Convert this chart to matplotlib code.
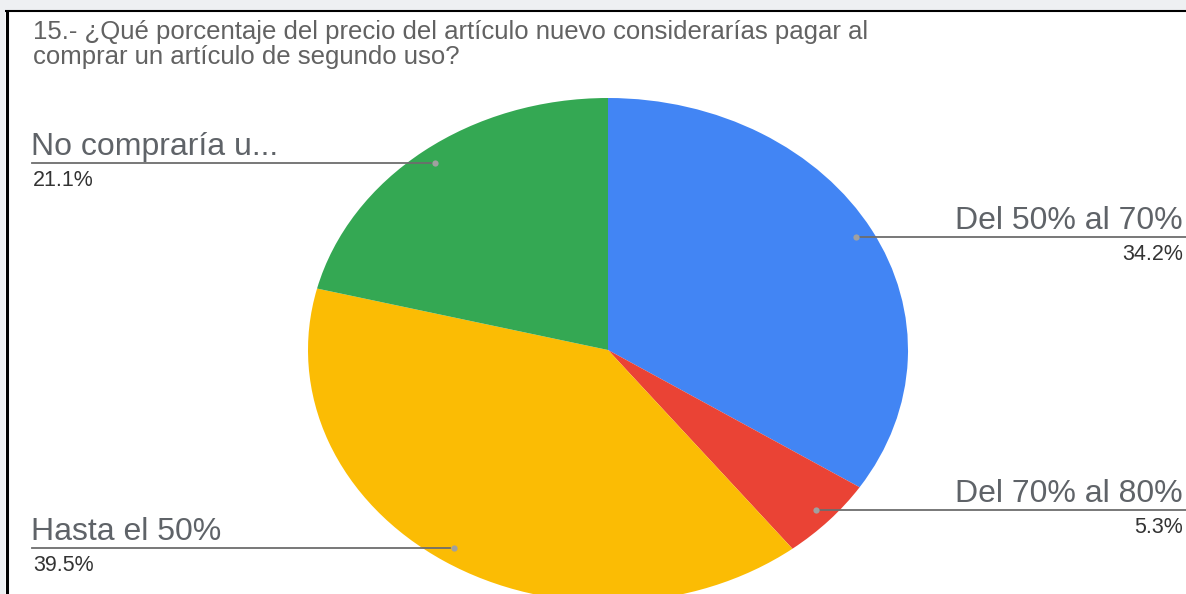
import numpy as np
import matplotlib
matplotlib.use("Agg")
import matplotlib.pyplot as plt
from matplotlib.patches import Rectangle

W, H = 1186, 594

title_lines = [
    "15.- ¿Qué porcentaje del precio del artículo nuevo considerarías pagar al",
    "comprar un artículo de segundo uso?",
]
labels = ["Del 50% al 70%", "Del 70% al 80%", "Hasta el 50%", "No compraría u..."]
shares = [34.2, 5.3, 39.5, 21.1]
colors = ["#4285f4", "#ea4335", "#fbbc04", "#34a853"]

plt.rcParams["font.family"] = ["Liberation Sans", "DejaVu Sans"]

fig = plt.figure(figsize=(W / 100, H / 100), dpi=100)
fig.patch.set_facecolor("white")

# pie is stretched into an ellipse: centre and radii in pixels (y from top)
cx, cy, rx, ry = 608, 350, 300, 252
ax = fig.add_axes([(cx - rx) / W, (H - cy - ry) / H, 2 * rx / W, 2 * ry / H])
wedges, _ = ax.pie(shares, colors=colors, startangle=90, counterclock=False,
                   wedgeprops=dict(linewidth=0))
ax.set_aspect("auto")
ax.set_xlim(-1, 1)
ax.set_ylim(-1, 1)

# overlay in pixel units for labels, leader lines and the frame
ov = fig.add_axes([0, 0, 1, 1], zorder=5)
ov.set_xlim(0, W)
ov.set_ylim(H, 0)
ov.axis("off")
ov.patch.set_alpha(0)

ov.add_patch(Rectangle((0, 0), W, 10, color="#eef0f2", lw=0))
ov.add_patch(Rectangle((0, 0), 5, H, color="#eef0f2", lw=0))
ov.plot([5, W], [11, 11], color="black", lw=1.5, solid_capstyle="butt")
ov.plot([6.5, 6.5], [10, H], color="black", lw=2.2, solid_capstyle="butt")

ov.text(33, 39, title_lines[0], fontsize=18.5, color="#626262", va="baseline")
ov.text(33, 64, title_lines[1], fontsize=18.5, color="#626262", va="baseline")

to_px = ov.transData.inverted()
for w, name, val in zip(wedges, labels, shares):
    mid = np.deg2rad((w.theta1 + w.theta2) / 2)
    dot = ax.transData.transform((0.94 * np.cos(mid), 0.94 * np.sin(mid)))
    x, y = to_px.transform(dot)
    ov.plot(x, y, "o", ms=4.5, color="#a0a0a0", mec="none", zorder=6)
    if np.cos(mid) > 0:
        ov.plot([x + 4, W], [y, y], color="#6d6d6d", lw=1.3)
        ov.text(1183, y - 8, name, fontsize=23, color="#5f6368", ha="right", va="baseline")
        ov.text(1183, y + 7, f"{val}%", fontsize=15.5, color="#333333", ha="right", va="top")
    else:
        ov.plot([32, x - 4], [y, y], color="#6d6d6d", lw=1.3)
        ov.text(31, y - 8, name, fontsize=23, color="#5f6368", ha="left", va="baseline")
        ov.text(33, y + 7, f"{val}%", fontsize=15.5, color="#333333", ha="left", va="top")

fig.savefig("out.png", dpi=100)
